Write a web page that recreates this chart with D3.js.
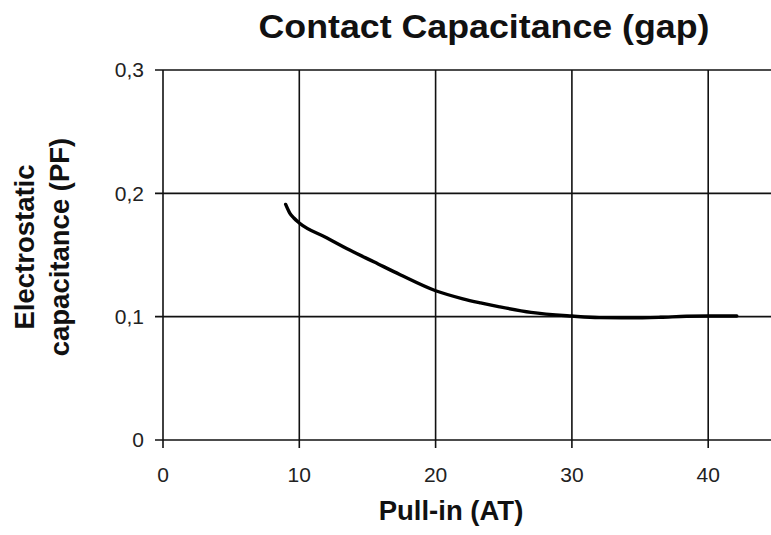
<!DOCTYPE html>
<html><head><meta charset="utf-8">
<script src="https://cdn.jsdelivr.net/npm/d3@7/dist/d3.min.js"></script>
<style>body{margin:0;background:#fff}svg{display:block}</style>
</head><body>
<script>
const xValues = [9.0, 9.3, 9.6, 10.0, 12.0, 13.7, 15.5, 17.4, 20.0, 22.0, 23.3, 24.7, 27.0, 30.0, 32.0, 34.3, 36.5, 38.4, 40.0, 42.1];
const yValues = [0.191, 0.184, 0.180, 0.176, 0.164, 0.154, 0.1443, 0.134, 0.121, 0.1145, 0.1112, 0.108, 0.1035, 0.1005, 0.0992, 0.099, 0.0995, 0.1003, 0.1005, 0.1005];
const xTicks = [0, 10, 20, 30, 40];
const yTicks = [0, 0.1, 0.2, 0.3];
const title = "Contact Capacitance (gap)";
const xLabel = "Pull-in (AT)";
const yLabel = ["Electrostatic", "capacitance (PF)"];

const W = 771, H = 535;
const svg = d3.select("body").append("svg").attr("width", W).attr("height", H);
const font = "'Liberation Sans', Arial, sans-serif";
const x0 = 163, xPer10 = 136.3;
const x = d3.scaleLinear().domain([0, 10]).range([x0, x0 + xPer10]);
const y = d3.scaleLinear().domain([0, 0.3]).range([440, 70]);

// grid
const g = svg.append("g");
g.selectAll(".vg").data(xTicks).join("line")
  .attr("x1", d => x(d)).attr("x2", d => x(d))
  .attr("y1", y(0.3)).attr("y2", y(0) + 8)
  .attr("stroke", "#111").attr("stroke-width", 1.6);
g.selectAll(".hg").data(yTicks).join("line")
  .attr("x1", x(0) - 8).attr("x2", W)
  .attr("y1", d => y(d)).attr("y2", d => y(d))
  .attr("stroke", "#111").attr("stroke-width", 1.6);

// tick labels
svg.selectAll(".yt").data(yTicks).join("text")
  .attr("x", 144).attr("y", d => y(d)).attr("dy", "0.35em")
  .attr("text-anchor", "end").attr("font-family", font).attr("font-size", 21).attr("fill", "#222")
  .text(d => d3.format(".1f")(d).replace(".", ",").replace(/^0,0$/, "0"));
svg.selectAll(".xt").data(xTicks).join("text")
  .attr("x", d => x(d)).attr("y", 482)
  .attr("text-anchor", "middle").attr("font-family", font).attr("font-size", 21).attr("fill", "#222")
  .text(d => d);

// curve
svg.append("path")
  .datum(xValues.map((v, i) => [v, yValues[i]]))
  .attr("d", d3.line().x(d => x(d[0])).y(d => y(d[1])).curve(d3.curveMonotoneX))
  .attr("fill", "none").attr("stroke", "#000").attr("stroke-width", 3.4).attr("stroke-linecap", "round");

// title & labels
svg.append("text").attr("x", 484).attr("y", 38).attr("text-anchor", "middle")
  .attr("font-family", font).attr("font-weight", "bold").attr("font-size", 33)
  .attr("textLength", 451).attr("lengthAdjust", "spacingAndGlyphs")
  .attr("fill", "#111").text(title);
svg.append("text").attr("x", 451).attr("y", 520).attr("text-anchor", "middle")
  .attr("font-family", font).attr("font-weight", "bold").attr("font-size", 27.5).attr("fill", "#111").text(xLabel);
yLabel.forEach((t, i) => {
  svg.append("text").attr("transform", `translate(${34 + i * 35},247) rotate(-90)`).attr("text-anchor", "middle")
    .attr("font-family", font).attr("font-weight", "bold").attr("font-size", 27.5).attr("fill", "#111").text(t);
});
</script>
</body></html>
